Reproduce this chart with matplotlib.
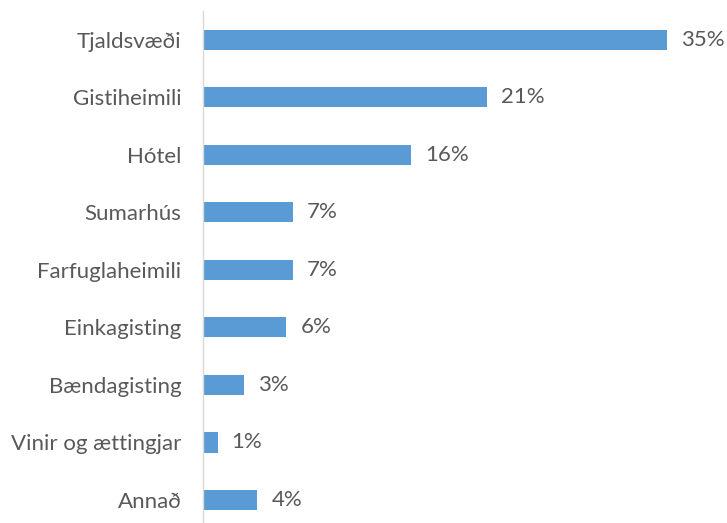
import matplotlib
matplotlib.use("Agg")
import matplotlib.pyplot as plt

categories = ["Tjaldsvæði", "Gistiheimili", "Hótel", "Sumarhús", "Farfuglaheimili",
              "Einkagisting", "Bændagisting", "Vinir og ættingjar", "Annað"]
values = [35.0, 21.4, 15.7, 6.8, 6.8, 6.3, 3.1, 1.1, 4.1]
labels = ["35%", "21%", "16%", "7%", "7%", "6%", "3%", "1%", "4%"]

plt.rcParams['font.family'] = ['Lato', 'DejaVu Sans']
text_color = "#595959"

fig = plt.figure(figsize=(7.27, 5.23), dpi=100)
ax = fig.add_axes([203/727, 0.0, (700-203)/727, (523-11)/523])

y = list(range(len(categories)))
ax.barh(y, values, height=0.35, color="#5B9BD5")
for yi, v, lab in zip(y, values, labels):
    ax.text(v + 37.5*14/497, yi, lab, va="center", ha="left", fontsize=16, color=text_color)

ax.set_xlim(0, 37.5)
ax.set_ylim(8.4, -0.5)
ax.set_yticks(y)
ax.set_yticklabels(categories, fontsize=16, color=text_color)
ax.tick_params(axis='y', length=0, pad=15.5)
ax.set_xticks([])
for s in ["top", "right", "bottom"]:
    ax.spines[s].set_visible(False)
ax.spines["left"].set_color("#D9D9D9")
ax.spines["left"].set_linewidth(1.0)

fig.savefig("out.png", dpi=100)
